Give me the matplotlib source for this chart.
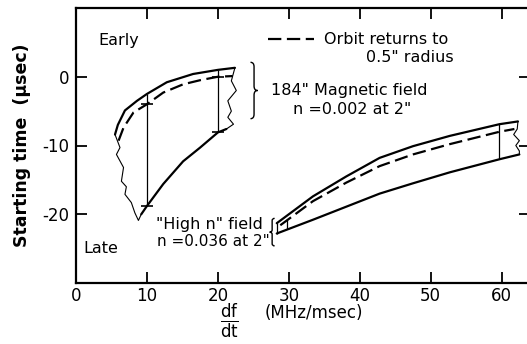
import numpy as np
import matplotlib
matplotlib.use("Agg")
import matplotlib.pyplot as plt
from matplotlib.lines import Line2D
from matplotlib.path import Path
from matplotlib.patches import PathPatch

plt.rcParams['axes.unicode_minus'] = False
plt.rcParams['mathtext.fontset'] = 'dejavusans'

# 184" magnetic field (n = 0.002 at 2")
mag_up_x = [5.5, 5.9, 6.9, 8.6, 10, 12.8, 16.5, 20, 22.4]
mag_up_y = [-8.4, -7.0, -4.9, -3.5, -2.5, -0.8, 0.4, 1.0, 1.3]
mag_dash_x = [6.0, 6.7, 8.1, 10, 12.3, 15.1, 17.5, 20, 22.1]
mag_dash_y = [-9.3, -7.4, -5.2, -4.0, -2.3, -1.1, -0.5, 0.0, 0.1]
mag_low_x = [9.2, 10, 12.3, 15.1, 17.5, 20, 21.2]
mag_low_y = [-20.0, -18.8, -15.6, -12.3, -10.3, -8.1, -7.6]
mag_lwave_x = [5.5, 6.2, 5.7, 6.7, 6.4, 7.1, 6.9, 7.8, 8.3, 8.8, 9.2]
mag_lwave_y = [-8.4, -10.3, -11.3, -13.2, -15.2, -16.0, -17.1, -18.3, -19.8, -20.9, -20.0]
mag_rwave_x = [22.4, 21.9, 22.6, 21.4, 21.9, 21.4, 22.2, 21.2]
mag_rwave_y = [1.3, -0.6, -2.0, -3.5, -5.0, -5.9, -6.9, -7.6]
mag_vert_x = [10, 20]
mag_vert_top = [-2.5, 1.0]
mag_vert_bot = [-18.8, -8.1]
mag_vert_mid = [-4.0, 0.0]

# "High n" field (n = 0.036 at 2")
hn_up_x = [28.3, 28.7, 33.4, 38.1, 42.8, 47.5, 52.7, 59.7, 62.3]
hn_up_y = [-21.3, -21.0, -17.4, -14.5, -11.8, -10.1, -8.6, -6.9, -6.5]
hn_dash_x = [28.8, 33.4, 38.1, 42.8, 47.5, 52.7, 59.7, 61.8]
hn_dash_y = [-21.6, -18.1, -15.4, -13.0, -11.3, -9.8, -8.0, -7.6]
hn_low_x = [28.3, 33.4, 38.1, 42.8, 47.5, 52.7, 59.7, 62.5]
hn_low_y = [-22.8, -20.8, -18.9, -17.0, -15.5, -13.9, -12.0, -11.3]
hn_rwave_x = [62.3, 62.2, 61.7, 62.5, 62.0, 62.5, 62.5]
hn_rwave_y = [-6.5, -7.6, -8.4, -9.3, -10.0, -10.8, -11.3]
hn_vert_x = [28.3, 29.7, 59.7]
hn_vert_top = [-21.3, -20.7, -6.9]
hn_vert_bot = [-22.8, -22.2, -12.0]

xticks = [0, 10, 20, 30, 40, 50, 60]
yticks = [-20, -10, 0]


def brace(ax, x_tip, x_back, y_top, y_bot):
    # curly brace drawn as a path, tip pointing from x_back towards x_tip
    xm = (x_tip + x_back) / 2
    ym = (y_top + y_bot) / 2
    k = (y_top - y_bot) * 0.08
    verts = [(x_back, y_top), (xm, y_top), (xm, y_top - k),
             (xm, ym + k),
             (xm, ym), (x_tip, ym),
             (xm, ym), (xm, ym - k),
             (xm, y_bot + k),
             (xm, y_bot), (x_back, y_bot)]
    codes = [Path.MOVETO, Path.CURVE3, Path.CURVE3,
             Path.LINETO,
             Path.CURVE3, Path.CURVE3,
             Path.CURVE3, Path.CURVE3,
             Path.LINETO,
             Path.CURVE3, Path.CURVE3]
    ax.add_patch(PathPatch(Path(verts, codes), fill=False, lw=1.0,
                           color='black'))


fig = plt.figure(figsize=(5.27, 3.44), dpi=100)
ax = fig.add_axes([76/527, 61/344, 454/527, 275/344])

lw = 1.6
dash = (0, (6, 2.5))
for xs, ys in [(mag_up_x, mag_up_y), (mag_low_x, mag_low_y),
               (hn_up_x, hn_up_y), (hn_low_x, hn_low_y)]:
    ax.plot(xs, ys, color='black', lw=lw, solid_capstyle='round',
            solid_joinstyle='round')
for xs, ys in [(mag_dash_x, mag_dash_y), (hn_dash_x, hn_dash_y)]:
    ax.plot(xs, ys, color='black', lw=lw, linestyle=dash)
for xs, ys in [(mag_lwave_x, mag_lwave_y), (mag_rwave_x, mag_rwave_y),
               (hn_rwave_x, hn_rwave_y)]:
    ax.plot(xs, ys, color='black', lw=0.8, solid_joinstyle='round')

ax.vlines(mag_vert_x, mag_vert_bot, mag_vert_top, color='black', lw=0.9)
ax.vlines(hn_vert_x, hn_vert_bot, hn_vert_top, color='black', lw=0.9)
# little cross marks where the verticals meet the curves
ax.plot(mag_vert_x, mag_vert_mid, ls='none', marker='_', ms=9, mew=1.2, color='black')
ax.plot(mag_vert_x, mag_vert_bot, ls='none', marker='_', ms=9, mew=1.2, color='black')

ax.set_xlim(0, 64)
ax.set_ylim(-30, 10)
ax.set_xticks(xticks)
ax.set_yticks(yticks)
ax.tick_params(direction='in', length=8, width=1.3, top=True, right=True,
               labelsize=12)
ax.tick_params(axis='x', pad=3)
ax.tick_params(axis='y', pad=5)
for s in ax.spines.values():
    s.set_linewidth(1.6)

fs = 11.5
ax.text(3.2, 5.3, 'Early', fontsize=fs, va='center')
ax.text(1.0, -25.0, 'Late', fontsize=fs, va='center')

leg = ax.legend([Line2D([0], [0], color='black', lw=lw, linestyle=dash)],
                ['Orbit returns to'], frameon=False, fontsize=fs,
                loc='center left', bbox_to_anchor=(268/527, 1 - 40/344),
                bbox_transform=fig.transFigure, borderpad=0,
                borderaxespad=0, handlelength=2.9, handletextpad=0.6)
ax.text(47.0, 2.8, '0.5" radius', fontsize=fs, ha='center', va='center')

brace(ax, 25.6, 24.6, 2.1, -6.1)
ax.text(38.5, -2.0, '184" Magnetic field', fontsize=fs, ha='center', va='center')
ax.text(38.9, -4.7, 'n =0.002 at 2"', fontsize=fs, ha='center', va='center')

brace(ax, 27.3, 28.0, -20.6, -24.6)
ax.text(18.8, -21.5, '"High n" field', fontsize=fs, ha='center', va='center')
ax.text(19.4, -23.9, 'n =0.036 at 2"', fontsize=11, ha='center', va='center')

ax.set_ylabel('Starting time  (\u03bcsec)', fontsize=12.5, fontweight='bold',
              labelpad=8)
fig.text(229/527, 1 - 321/344, r'$\frac{\mathrm{df}}{\mathrm{dt}}$',
         fontsize=17, ha='center', va='center')
fig.text(314/527, 1 - 313/344, '(MHz/msec)', fontsize=12, ha='center',
         va='center')

fig.savefig('out.png', dpi=100)
